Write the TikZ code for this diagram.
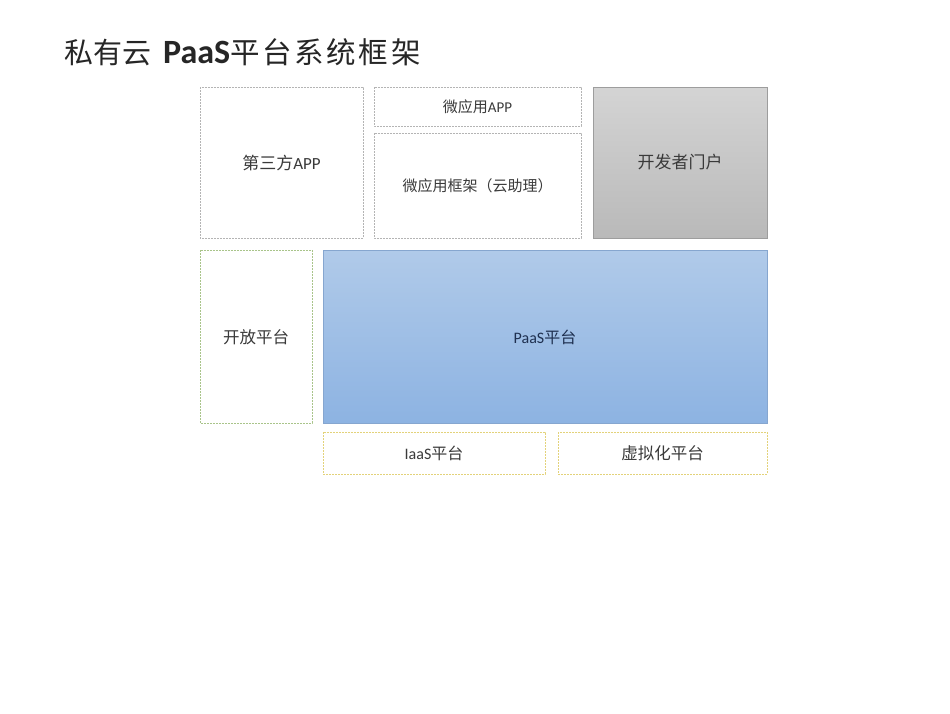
\documentclass[tikz,border=0pt]{standalone}
\usepackage{fontspec}
\setmainfont{Carlito}
\newfontfamily\cjk{Noto Sans CJK SC}
\newfontfamily\cjkwide[LetterSpace=9]{Noto Sans CJK SC}
\definecolor{txt}{HTML}{3A3A3A}
\definecolor{grayline}{HTML}{B4B4B4}
\definecolor{greenline}{HTML}{A9C48A}
\definecolor{yellowline}{HTML}{E3D27A}
\definecolor{paastop}{HTML}{B0CAE9}
\definecolor{paasbot}{HTML}{8DB3E2}
\definecolor{paasline}{HTML}{86A6CF}
\definecolor{devtop}{HTML}{D4D4D4}
\definecolor{devbot}{HTML}{B9B9B9}
\definecolor{navy}{HTML}{1F3050}
\tikzset{
  dotbox/.style={draw=grayline, line width=0.9pt, dash pattern=on 2pt off 1pt, fill=white},
  greenbox/.style={draw=greenline, line width=0.9pt, dash pattern=on 2pt off 1pt, fill=white},
  yellowbox/.style={draw=yellowline, line width=0.9pt, dash pattern=on 2pt off 1pt, fill=white},
  lbl/.style={text=txt, inner sep=0pt},
}
\begin{document}
\begin{tikzpicture}[x=1pt,y=-1pt]
\useasboundingbox[fill=white] (0,0) rectangle (950,713);
% title
\node[anchor=base west, inner sep=0pt, text=black!85] (title) at (64,63)
  {\fontsize{29}{34}\cjk 私有云\hspace{12pt}\fontsize{34}{36}\selectfont\rmfamily\bfseries PaaS\fontsize{29.5}{34}\cjkwide\mdseries 平台系统框架};
% top row
\draw[dotbox] (200,87) rectangle (363,238);
\node[lbl] (third) at (281.5,163) {\fontsize{17}{20}\selectfont{\cjk 第三方}APP};
\draw[dotbox] (374,87) rectangle (581,126);
\node[lbl] (microapp) at (477.5,106.5) {\fontsize{15}{18}\selectfont{\cjk 微应用}APP};
\draw[dotbox] (374,133) rectangle (581,238);
\node[lbl] (microfw) at (477.5,186) {\fontsize{15}{18}\cjk 微应用框架（云助理）};
\draw[draw=devbot!85!black, line width=0.6pt, top color=devtop, bottom color=devbot] (593,87) rectangle (767,238);
\node[lbl] (dev) at (680,162) {\fontsize{17}{20}\cjk 开发者门户};
% middle row
\draw[greenbox] (200,250) rectangle (312,423);
\node[lbl] (open) at (256,337) {\fontsize{16.5}{20}\cjk 开放平台};
\draw[draw=paasline, line width=0.6pt, top color=paastop, bottom color=paasbot] (323,250) rectangle (767,423);
\node[lbl, text=navy] (paas) at (545,337) {\fontsize{16}{19}\selectfont PaaS{\cjk 平台}};
% bottom row
\draw[yellowbox] (323,432) rectangle (545,474);
\node[lbl] (iaas) at (434,453) {\fontsize{16}{19}\selectfont IaaS{\cjk 平台}};
\draw[yellowbox] (558,432) rectangle (767,474);
\node[lbl] (virt) at (662.5,453) {\fontsize{16.5}{20}\cjk 虚拟化平台};
\end{tikzpicture}
\end{document}
